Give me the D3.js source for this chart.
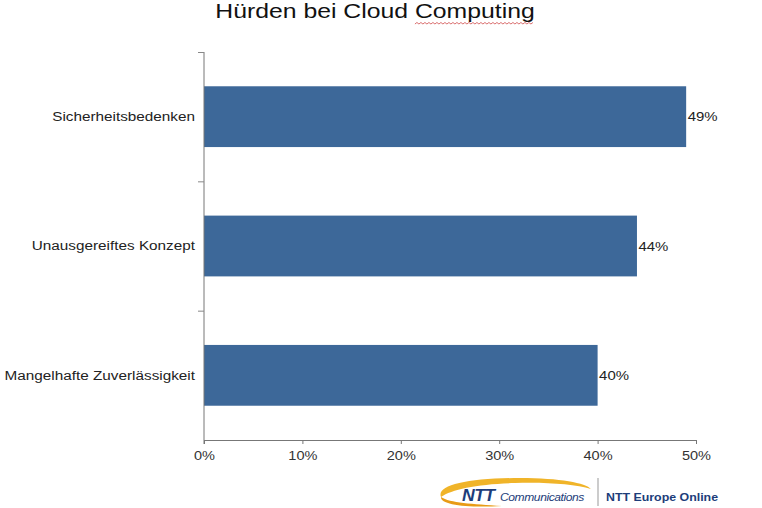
<!DOCTYPE html>
<html><head><meta charset="utf-8">
<script src="https://cdn.jsdelivr.net/npm/d3@7/dist/d3.min.js"></script>
<style>
html,body{margin:0;padding:0;background:#fff;}
svg{display:block;font-family:"Liberation Sans",Arial,Helvetica,sans-serif;}
</style></head>
<body>
<svg id="chart" width="762" height="508"></svg>
<script>
const title = "Hürden bei Cloud Computing";
const categories = ["Sicherheitsbedenken", "Unausgereiftes Konzept", "Mangelhafte Zuverlässigkeit"];
const values = [0.49, 0.44, 0.40];
const xTicks = [0, 0.1, 0.2, 0.3, 0.4, 0.5];
const logoLeft = ["NTT", "Communications"];
const logoRight = "NTT Europe Online";

const svg = d3.select("#chart");
const W = 762, H = 508;
const SX = 1.15; // horizontal stretch of the reference's texts
const m = {left: 204, right: 66, top: 52, bottom: 68};
const x = d3.scaleLinear().domain([0, 0.5]).range([m.left, W - m.right]);
const y = d3.scaleBand().domain(categories).range([m.top, H - m.bottom]).paddingInner(0.53).paddingOuter(0.265);
const yIdx = d3.scaleLinear().domain([0, categories.length]).range([m.top, H - m.bottom]);

function stext(g, px, py, s) {
  return g.append("text").attr("transform", `translate(${px},${py}) scale(${s},1)`);
}

// title
const t = stext(svg, 375, 18, 1.18).attr("text-anchor", "middle")
  .attr("font-size", 21).attr("fill", "#111").text(title);

// red wavy spellcheck underline under "Computing"
{
  const node = t.node();
  const full = node.getComputedTextLength() * 1.18;
  const idx = title.indexOf("Computing");
  const start = node.getSubStringLength(0, idx) * 1.18;
  const len = node.getSubStringLength(idx, 9) * 1.18;
  const x0 = 375 - full / 2 + start, x1 = x0 + len;
  let d = `M${x0},24`;
  let k = 0;
  for (let xx = x0 + 2; xx <= x1; xx += 2, k++) d += `L${xx},${k % 2 ? 24 : 22.5}`;
  svg.append("path").attr("d", d).attr("fill", "none").attr("stroke", "#d04a4a").attr("stroke-width", 0.8);
}

// bars
svg.append("g").selectAll("rect").data(categories).join("rect")
  .attr("x", x(0)).attr("y", d => y(d))
  .attr("width", (d, i) => x(values[i]) - x(0))
  .attr("height", y.bandwidth())
  .attr("fill", "#3d6899");

// value labels
const vg = svg.append("g");
categories.forEach((c, i) => {
  stext(vg, x(values[i]) + 1.5, y(c) + y.bandwidth() / 2, SX)
    .attr("dy", "0.35em").attr("font-size", 13).attr("fill", "#222")
    .text(d3.format(".0%")(values[i]));
});

// y axis: boundary ticks
const ya = svg.append("g").attr("transform", `translate(${m.left},0)`)
  .call(d3.axisLeft(yIdx).tickValues([0, 1, 2, 3]).tickSize(6).tickSizeOuter(0).tickFormat(""));
ya.select(".domain").attr("stroke", "#777").attr("d", `M0,${m.top}V${H - m.bottom + 4}`);
ya.selectAll(".tick line").attr("stroke", "#888");
ya.selectAll(".tick").filter(d => d === 3).remove();

// category labels
const yl = svg.append("g").attr("transform", `translate(${m.left},0)`)
  .call(d3.axisLeft(y).tickSize(0).tickPadding(9));
yl.select(".domain").remove();
yl.selectAll("text").attr("font-size", 13.3).attr("fill", "#222").attr("font-family", null)
  .attr("x", -9 / SX).attr("transform", `scale(${SX},1)`);

// x axis
const xa = svg.append("g").attr("transform", `translate(0,${H - m.bottom})`)
  .call(d3.axisBottom(x).tickValues(xTicks).tickSize(4).tickSizeOuter(0).tickPadding(7).tickFormat(d3.format(".0%")));
xa.select(".domain").attr("stroke", "#777");
xa.selectAll(".tick line").attr("stroke", "#777");
xa.selectAll("text").attr("font-size", 13).attr("fill", "#333").attr("font-family", null)
  .attr("transform", "scale(1.12,1)");

// logo
const lg = svg.append("g");
lg.append("path")
  .attr("d", "M441,497 C436,485 468,478 520,478 C560,478 586,483 591,489 C575,484 545,482 515,483 C478,484 452,489 441,497 Z")
  .attr("fill", "#f0b429");
lg.append("path")
  .attr("d", "M441,497 C440,505 468,508 502,506 C472,504 450,503 441,497 Z")
  .attr("fill", "#e89b16");
stext(lg, 462, 501, 1.1).attr("font-size", 16).attr("font-weight", "bold")
  .attr("font-style", "italic").attr("fill", "#1d3d7a").attr("letter-spacing", -0.5).text(logoLeft[0]);
stext(lg, 500, 500.5, 1.05).attr("font-size", 11.5).attr("font-style", "italic")
  .attr("fill", "#1d3d7a").attr("letter-spacing", -0.4).text(logoLeft[1]);
lg.append("line").attr("x1", 598).attr("x2", 598).attr("y1", 478).attr("y2", 506).attr("stroke", "#999").attr("stroke-width", 1);
stext(lg, 606, 501, 1.05).attr("font-size", 11.8).attr("font-weight", "bold")
  .attr("fill", "#1d3d7a").text(logoRight);
</script>
</body></html>
